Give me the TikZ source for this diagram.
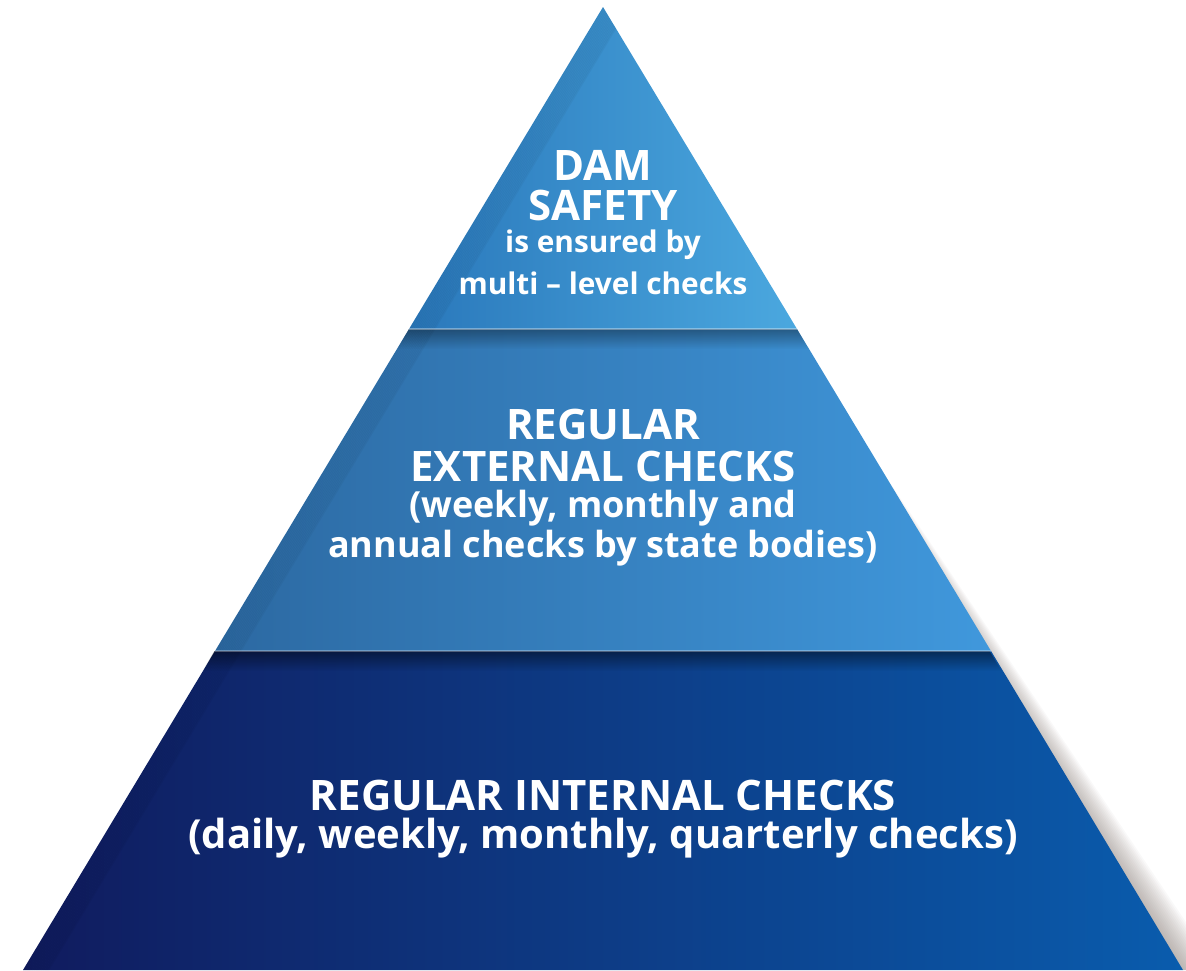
\documentclass[tikz,border=0pt]{standalone}
\usepackage{fontspec}
\setmainfont{Open Sans}[BoldFont={Open Sans Bold}]
\usetikzlibrary{fadings,calc}
\definecolor{topL}{HTML}{2A78BB}
\definecolor{topR}{HTML}{4BA8DF}
\definecolor{midL}{HTML}{2C69A2}
\definecolor{midR}{HTML}{4098DC}
\definecolor{botL}{HTML}{101B5E}
\definecolor{botR}{HTML}{0A5CAD}
\definecolor{shadowc}{HTML}{8A7F78}
\tikzset{
  lbl/.style={text=white, align=center, inner sep=0pt},
  capsA/.style={lbl, font=\bfseries\fontsize{42}{46}\selectfont},
  smallA/.style={lbl, font=\bfseries\fontsize{29.8}{33}\selectfont},
  lowerM/.style={lbl, font=\bfseries\fontsize{36}{40}\selectfont},
  lowerB/.style={lbl, font=\bfseries\fontsize{40}{44}\selectfont},
}
\begin{document}
\begin{tikzpicture}[x=1pt,y=-1pt]
\useasboundingbox (0,0) rectangle (1186,970);
\fill[white] (0,0) rectangle (1186,970);
% key points
\coordinate (A) at (603,7);
\coordinate (L1) at (409,329); \coordinate (R1) at (797,329);
\coordinate (L2) at (215,651); \coordinate (R2) at (991,651);
\coordinate (L3) at (23,970);  \coordinate (R3) at (1183,970);
% soft shadow on the right
\foreach \i in {1,...,16}{
  \fill[shadowc, opacity=0.045]
    ($(A)+(0,50)$) -- ($(R3)+(2.2*\i,0)$) -- (R3) -- cycle;
}
% levels
\shade[left color=topL, right color=topR] (A) -- (R1) -- (L1) -- cycle;
\shade[left color=midL, right color=midR] (L1) -- (R1) -- (R2) -- (L2) -- cycle;
\shade[left color=botL, right color=botR] (L2) -- (R2) -- (R3) -- (L3) -- cycle;
% inner darkening along the left edge
\begin{scope}
  \clip (A) -- (R3) -- (L3) -- cycle;
  \foreach \i in {0,...,14}{
    \draw[black, opacity=0.035, line width=2pt] ($(A)+(1.8*\i,0)$) -- ($(L3)+(1.8*\i,0)$);
  }
\end{scope}
% separators
\fill[black, opacity=0.35, path fading=south] (L1) -- (R1) -- ($(R1)+(12,20)$) -- ($(L1)+(-12,20)$) -- cycle;
\fill[black, opacity=0.45, path fading=south] (L2) -- (R2) -- ($(R2)+(12,20)$) -- ($(L2)+(-12,20)$) -- cycle;
\draw[white, opacity=0.35, line width=1.2pt] (L1) -- (R1);
\draw[white, opacity=0.3, line width=1.2pt] (L2) -- (R2);
% texts
\node[capsA]  (t1) at (603,165) {DAM};
\node[capsA]  (t2) at (603,205) {SAFETY};
\node[smallA] (t3) at (603,245) {is ensured by};
\node[smallA] (t4) at (603,283) {multi – level checks};
\node[capsA]  (m1) at (603,424) {REGULAR};
\node[capsA]  (m2) at (603,466) {EXTERNAL CHECKS};
\node[lowerM] (m3) at (603,508) {(weekly, monthly and};
\node[lowerM] (m4) at (603,548) {annual checks by state bodies)};
\node[capsA]  (b1) at (603,795) {REGULAR INTERNAL CHECKS};
\node[lowerB] (b2) at (603,838) {(daily, weekly, monthly, quarterly checks)};
\end{tikzpicture}
\end{document}
